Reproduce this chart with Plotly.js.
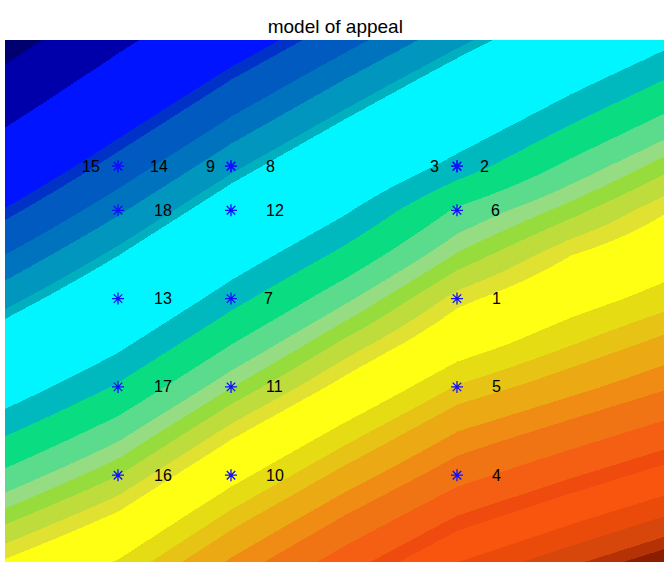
<!DOCTYPE html>
<html>
<head>
<meta charset="utf-8">
<script src="https://cdn.plot.ly/plotly-3.0.1.min.js"></script>
<style>
html,body{margin:0;padding:0;background:#fff;overflow:hidden;}
#chart{width:664px;height:562px;}
</style>
</head>
<body>
<div id="chart"></div>
<script>
// ---- data ----
// grid of the modelled surface (level coordinate), rows = y nodes, cols = x nodes
const gridX = [0, 1, 2, 3, 4, 5, 6];
const gridY = [0, 0.5, 1, 1.5, 2, 2.5, 3, 3.5, 4, 4.5, 5, 5.5, 6];
const appealGrid = [
  [445, 491, 563, 627, 686, 723, 758],
  [398, 447, 519, 583, 642, 679, 714],
  [351, 403, 475, 539, 598, 635, 670],
  [304, 359, 431, 495, 556, 591, 626],
  [256, 314, 386, 450, 512, 547, 582],
  [209, 270, 342, 408, 468, 507, 543],
  [163, 226, 298, 364, 432, 471, 504],
  [116, 182, 254, 318, 388, 438, 472],
  [69, 138, 210, 274, 348, 395, 445],
  [22, 94, 166, 230, 292, 351, 405],
  [-25, 50, 122, 186, 248, 307, 361],
  [-71, 6, 78, 142, 204, 263, 317],
  [-119, -39, 33, 97, 159, 218, 272]
];
// contour level boundaries (in the same level coordinate)
const levelBounds = [-87, -20, 66, 79, 116, 143, 173, 183, 279, 309, 343, 369, 386, 403,
  423, 439, 486, 509, 529, 556, 579, 609, 638, 653, 684, 705, 725, 737];
const bandColors = ['#000070', '#0000AA', '#0014FF', '#0032C8', '#005AC0', '#0073BE', '#0096BE',
  '#00B0BE', '#00F5FF', '#00B9BE', '#0ADC82', '#5ADC8C', '#96DC82', '#96DC3C', '#BEDC3C',
  '#E1E132', '#FFFF14', '#E6DC14', '#E6C314', '#EBAA14', '#F08C14', '#F07314', '#F55F14',
  '#F04B0F', '#FA550F', '#EB4B0A', '#D7460A', '#B43205', '#8C1E00'];

// design points
const pointIds = ['1','2','3','4','5','6','7','8','9','10','11','12','13','14','15','16','17','18'];
const pointX   = [4, 4, 4, 4, 4, 4, 2, 2, 2, 2, 2, 2, 1, 1, 1, 1, 1, 1];
const pointY   = [3, 4.5, 4.5, 1, 2, 4, 3, 4.5, 4.5, 1, 2, 4, 3, 4.5, 4.5, 1, 2, 4];

// ---- label placement (style) ----
const labelShift = [33, 21, -16, 33, 33, 32, 31, 33, -14, 33, 33, 33, 34, 30, -16, 34, 34, 34];

// ---- build colourscale ----
const zmin = -150, zmax = 800;
const cs = [];
for (let i = 0; i < bandColors.length; i++) {
  const lo = i === 0 ? zmin : levelBounds[i - 1];
  const hi = i === bandColors.length - 1 ? zmax : levelBounds[i];
  cs.push([(lo - zmin) / (zmax - zmin), bandColors[i]]);
  cs.push([(hi - zmin) / (zmax - zmin), bandColors[i]]);
}
cs[0][0] = 0; cs[cs.length - 1][0] = 1;

const surface = {
  type: 'heatmap',
  x: gridX, y: gridY, z: appealGrid,
  zsmooth: 'best',
  colorscale: cs, zmin: zmin, zmax: zmax, zauto: false,
  showscale: false, hoverinfo: 'skip'
};

const pts = {
  type: 'scatter', mode: 'markers',
  x: pointX, y: pointY,
  marker: {symbol: 'asterisk-open', size: 10, color: '#1010FF', line: {color: '#1010FF', width: 1.3}},
  hoverinfo: 'skip', showlegend: false
};

const annotations = pointIds.map((t, i) => ({
  x: pointX[i], y: pointY[i], xref: 'x', yref: 'y', text: t, showarrow: false,
  xanchor: labelShift[i] > 0 ? 'left' : 'right', yanchor: 'middle',
  xshift: labelShift[i], yshift: 0,
  font: {family: 'Liberation Sans, Arial, sans-serif', size: 16, color: '#000'}
}));

const layout = {
  width: 664, height: 562,
  margin: {l: 5, r: 0, t: 40, b: 0, pad: 0},
  paper_bgcolor: '#fff', plot_bgcolor: '#fff',
  title: {text: 'model of appeal', x: 0.505, xanchor: 'center', xref: 'container',
          y: 1 - 26 / 562, yref: 'container', yanchor: 'middle',
          font: {family: 'Liberation Sans, Arial, sans-serif', size: 19, color: '#000'}},
  xaxis: {range: [0, 5.832], visible: false, fixedrange: true},
  yaxis: {range: [0.017, 5.929], visible: false, fixedrange: true},
  annotations: annotations,
  showlegend: false
};

Plotly.newPlot('chart', [surface, pts], layout, {displayModeBar: false, staticPlot: true});
</script>
</body>
</html>
